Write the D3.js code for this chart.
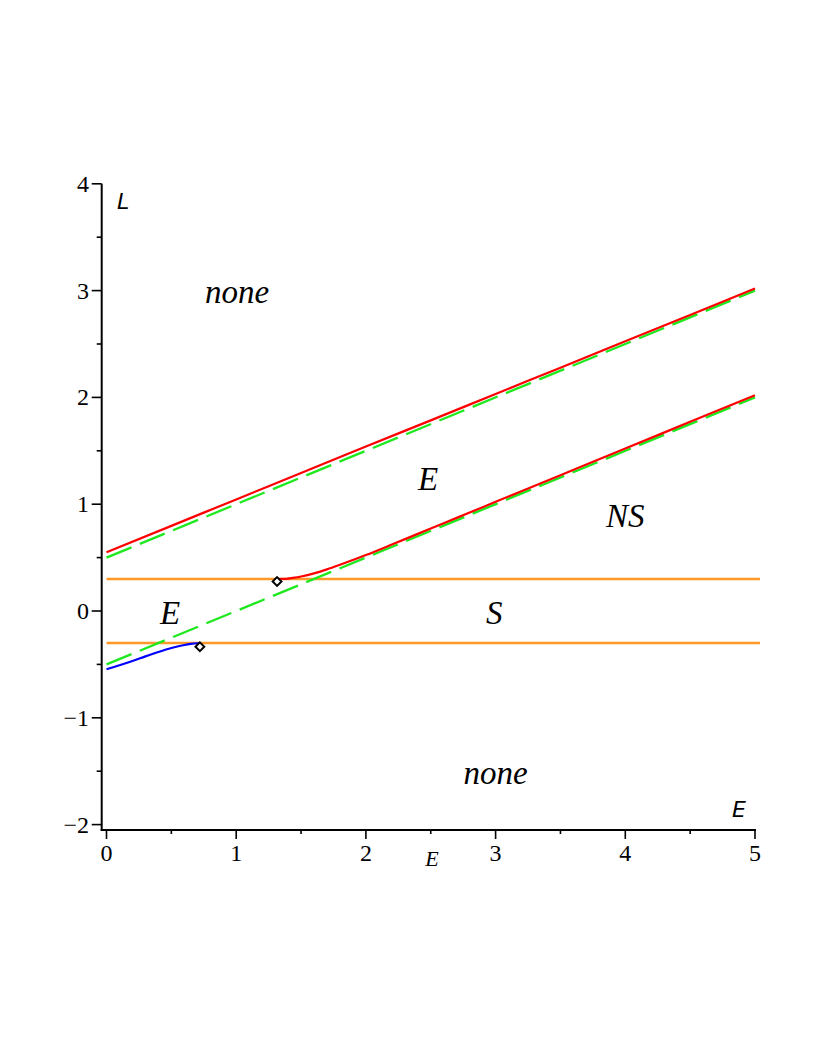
<!DOCTYPE html>
<html><head><meta charset="utf-8">
<script src="https://cdn.jsdelivr.net/npm/d3@7"></script>
<style>body{margin:0;background:#fff}svg{display:block}</style>
</head><body>
<svg id="c" width="822" height="1064"></svg>
<script>
// ---- data ----
const xTicks = [0,1,2,3,4,5];
const yTicks = [-2,-1,0,1,2,3,4];
const yTickLabels = ["\u22122","\u22121","0","1","2","3","4"];
const orangeLevels = [0.3, -0.3];
const greenUpperE = [0,5];
const greenUpperL = [0.5,3.0];
const greenLowerE = [0,5];
const greenLowerL = [-0.5,2.0];
const redUpperE = [0,0.5,1,1.5,2,2.5,3,3.5,4,4.5,5];
const redUpperL = [0.55,0.797,1.045,1.292,1.54,1.785,2.032,2.278,2.525,2.772,3.02];
const redLowerE = [1.32,1.36,1.4,1.45,1.5,1.6,1.7,1.8,1.9,2.0,2.2,2.4,2.6,2.8,3.0,3.5,4.0,4.5,5.0];
const redLowerL = [0.298,0.3,0.304,0.312,0.323,0.352,0.39,0.433,0.478,0.524,0.622,0.722,0.822,0.922,1.022,1.272,1.522,1.771,2.02];
const blueE = [0,0.1,0.2,0.3,0.4,0.5,0.6,0.65,0.7,0.72];
const blueL = [-0.545,-0.508,-0.468,-0.425,-0.384,-0.347,-0.318,-0.308,-0.302,-0.301];
const markerE = [0.72,1.315];
const markerL = [-0.335,0.276];
const regionText = ["none","E","NS","E","S","none"];
const regionE = [1.006,2.48,4.0,0.49,2.99,3.0];
const regionL = [2.88,1.133,0.787,-0.12,-0.12,-1.62];

// ---- scales ----
const x = d3.scaleLinear().domain([0,5]).range([106.5,755]);
const y = d3.scaleLinear().domain([-2,4]).range([824.6,183.8]);
const svg = d3.select("#c");
const axisX0 = 101.7, axisY0 = 830;

// axes
const ga = svg.append("g").attr("stroke","#000").attr("stroke-width",2);
ga.append("line").attr("x1",axisX0).attr("x2",axisX0).attr("y1",y(4)).attr("y2",axisY0+1);
ga.append("line").attr("x1",axisX0-1).attr("x2",x(5)+1).attr("y1",axisY0).attr("y2",axisY0);
d3.range(-2,4.01,0.5).forEach(v=>{
  const major = Math.abs(v-Math.round(v))<1e-9;
  ga.append("line").attr("x1",axisX0).attr("x2",axisX0-(major?10:5)).attr("y1",y(v)).attr("y2",y(v)).attr("stroke-width",1.6);
});
d3.range(0,5.01,0.5).forEach(v=>{
  const major = Math.abs(v-Math.round(v))<1e-9;
  ga.append("line").attr("y1",axisY0).attr("y2",axisY0+(major?9:4)).attr("x1",x(v)).attr("x2",x(v)).attr("stroke-width",1.6);
});
const tf = "Liberation Serif, Times New Roman, serif";
svg.append("g").selectAll("text").data(yTicks).join("text")
  .attr("x",89).attr("y",d=>y(d)+8).attr("text-anchor","end")
  .style("font-family",tf).style("font-size","24px").text((d,i)=>yTickLabels[i]);
svg.append("g").selectAll("text").data(xTicks).join("text")
  .attr("x",d=>x(d)).attr("y",861).attr("text-anchor","middle")
  .style("font-family",tf).style("font-size","24px").text(d=>d);
// axis labels
const sf = "DejaVu Sans, sans-serif";
svg.append("text").attr("x",117).attr("y",209).style("font-family",sf).style("font-style","italic").style("font-size","22px").text("L");
svg.append("text").attr("x",732).attr("y",817).style("font-family",sf).style("font-style","italic").style("font-size","22px").text("E");
svg.append("text").attr("x",432).attr("y",866).attr("text-anchor","middle").style("font-family",tf).style("font-style","italic").style("font-size","22px").text("E");

// curves
const line = d3.line().x(d=>x(d[0])).y(d=>y(d[1])).curve(d3.curveMonotoneX);
const zip = (a,b)=>a.map((v,i)=>[v,b[i]]);
orangeLevels.forEach(l=>{
  svg.append("path").attr("d",d3.line()([[x(0),y(l)],[x(5)+5,y(l)]])).attr("stroke","#ff9a2a").attr("stroke-width",2.4).attr("fill","none");
});
const dash = "27,9";
const green = "#1ee81e";
svg.append("path").attr("d",line(zip(greenUpperE,greenUpperL))).attr("stroke",green).attr("stroke-width",2.3).attr("stroke-dasharray",dash).attr("fill","none");
svg.append("path").attr("d",line(zip(greenLowerE,greenLowerL))).attr("stroke",green).attr("stroke-width",2.3).attr("stroke-dasharray",dash).attr("fill","none");
svg.append("path").attr("d",line(zip(redUpperE,redUpperL))).attr("stroke","#ff0000").attr("stroke-width",2.2).attr("fill","none");
svg.append("path").attr("d",line(zip(redLowerE,redLowerL))).attr("stroke","#ff0000").attr("stroke-width",2.2).attr("fill","none");
svg.append("path").attr("d",line(zip(blueE,blueL))).attr("stroke","#0000ff").attr("stroke-width",2.2).attr("fill","none");
// markers
svg.append("g").selectAll("path").data(zip(markerE,markerL)).join("path")
  .attr("d",d3.symbol(d3.symbolDiamond2,50)())
  .attr("transform",d=>`translate(${x(d[0])},${y(d[1])})`)
  .attr("fill","#fff").attr("stroke","#000").attr("stroke-width",2);
// region labels
svg.append("g").selectAll("text").data(regionText).join("text")
  .attr("x",(d,i)=>x(regionE[i])).attr("y",(d,i)=>y(regionL[i]))
  .attr("text-anchor","middle").style("font-family",tf).style("font-style","italic").style("font-size","33px")
  .text(d=>d);
</script>
</body></html>
